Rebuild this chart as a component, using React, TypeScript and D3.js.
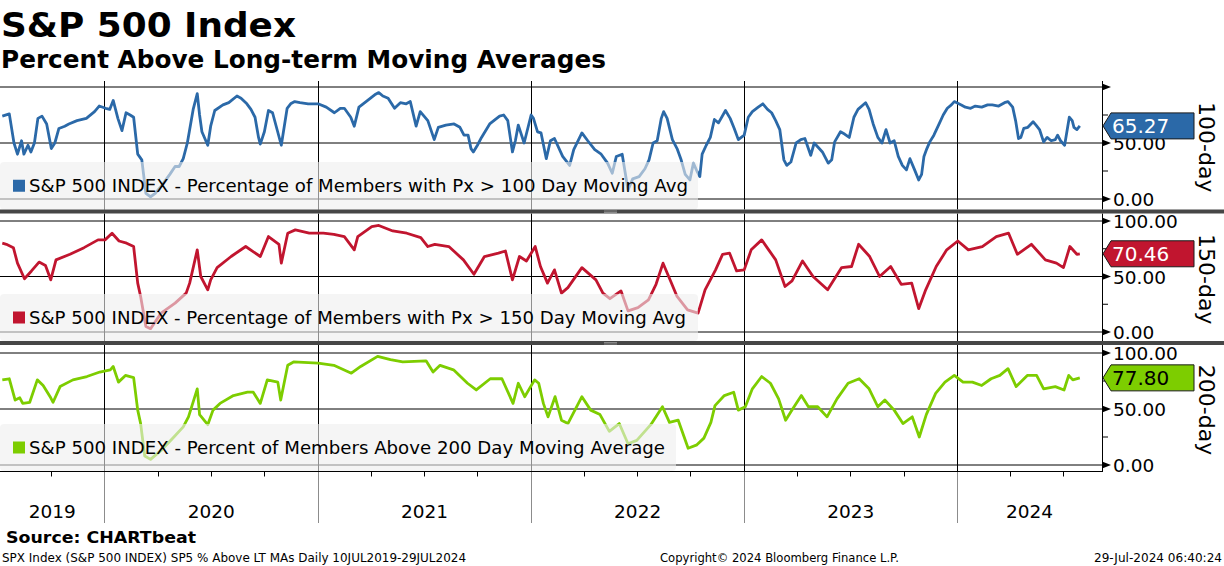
import React from "react";
import * as d3 from "d3";

type Pt = [string, number];

const series100: Pt[] = [
  ["2019-07-10",74],["2019-07-22",76],["2019-07-30",50],["2019-08-05",40],["2019-08-12",52],["2019-08-16",40],
  ["2019-08-23",48],["2019-08-28",42],["2019-09-03",50],["2019-09-09",72],["2019-09-16",74],["2019-09-24",67],
  ["2019-10-02",45],["2019-10-08",50],["2019-10-15",63],["2019-10-25",65],["2019-11-01",67],["2019-11-15",70],
  ["2019-12-01",72],["2019-12-15",78],["2019-12-23",83],["2020-01-03",81],["2020-01-10",80],["2020-01-16",88],
  ["2020-01-24",72],["2020-01-31",61],["2020-02-07",77],["2020-02-14",75],["2020-02-20",73],["2020-02-27",40],
  ["2020-03-05",35],["2020-03-12",5],["2020-03-20",2],["2020-03-28",5],["2020-04-08",12],["2020-04-22",22],
  ["2020-05-01",29],["2020-05-08",29],["2020-05-15",36],["2020-05-22",50],["2020-06-01",80],["2020-06-08",94],
  ["2020-06-12",75],["2020-06-16",60],["2020-06-26",48],["2020-07-01",65],["2020-07-08",79],["2020-07-22",84],
  ["2020-08-01",86],["2020-08-15",92],["2020-08-22",90],["2020-09-01",85],["2020-09-08",80],["2020-09-15",73],
  ["2020-09-21",55],["2020-09-24",49],["2020-10-01",60],["2020-10-08",79],["2020-10-15",77],["2020-10-30",48],
  ["2020-11-09",81],["2020-11-15",85],["2020-11-22",87],["2020-12-01",86],["2020-12-15",85],["2021-01-01",85],
  ["2021-01-15",82],["2021-01-29",77],["2021-02-08",81],["2021-02-15",81],["2021-02-26",73],["2021-03-04",65],
  ["2021-03-12",82],["2021-03-22",86],["2021-04-08",93],["2021-04-15",95],["2021-04-22",92],["2021-05-01",90],
  ["2021-05-12",81],["2021-05-22",86],["2021-06-01",85],["2021-06-08",87],["2021-06-18",65],["2021-06-25",78],
  ["2021-07-08",70],["2021-07-19",53],["2021-07-26",64],["2021-08-08",66],["2021-08-22",67],["2021-09-01",64],
  ["2021-09-08",57],["2021-09-15",57],["2021-09-20",45],["2021-09-24",42],["2021-10-01",48],["2021-10-08",55],
  ["2021-10-22",67],["2021-11-08",74],["2021-11-15",75],["2021-11-22",70],["2021-11-30",42],["2021-12-05",52],
  ["2021-12-10",66],["2021-12-20",50],["2022-01-01",75],["2022-01-05",72],["2022-01-12",60],["2022-01-18",59],
  ["2022-01-27",36],["2022-02-03",52],["2022-02-10",54],["2022-02-24",38],["2022-03-08",30],["2022-03-15",44],
  ["2022-03-29",59],["2022-04-08",52],["2022-04-20",44],["2022-05-01",40],["2022-05-12",32],["2022-05-20",23],
  ["2022-05-27",38],["2022-06-06",40],["2022-06-16",8],["2022-06-24",18],["2022-07-05",20],["2022-07-15",27],
  ["2022-07-22",35],["2022-07-29",50],["2022-08-05",52],["2022-08-12",72],["2022-08-16",78],["2022-08-22",72],
  ["2022-08-31",53],["2022-09-08",45],["2022-09-15",35],["2022-09-22",22],["2022-09-30",17],["2022-10-06",32],
  ["2022-10-12",25],["2022-10-17",20],["2022-10-21",40],["2022-10-28",48],["2022-11-04",55],["2022-11-11",71],
  ["2022-11-18",68],["2022-11-30",79],["2022-12-08",72],["2022-12-15",63],["2022-12-22",53],["2023-01-01",57],
  ["2023-01-08",73],["2023-01-15",78],["2023-01-25",82],["2023-02-02",85],["2023-02-10",80],["2023-02-17",77],
  ["2023-02-24",70],["2023-03-03",62],["2023-03-10",35],["2023-03-15",30],["2023-03-22",33],["2023-03-31",50],
  ["2023-04-08",53],["2023-04-15",54],["2023-04-25",39],["2023-05-01",50],["2023-05-08",46],["2023-05-15",42],
  ["2023-05-25",32],["2023-05-31",35],["2023-06-05",51],["2023-06-15",60],["2023-06-22",58],["2023-06-30",55],
  ["2023-07-08",73],["2023-07-15",80],["2023-07-28",86],["2023-08-03",80],["2023-08-10",67],["2023-08-18",55],
  ["2023-08-25",50],["2023-09-01",62],["2023-09-08",50],["2023-09-15",52],["2023-09-22",38],["2023-09-29",30],
  ["2023-10-06",26],["2023-10-12",36],["2023-10-20",26],["2023-10-27",17],["2023-11-01",22],["2023-11-05",38],
  ["2023-11-10",45],["2023-11-15",51],["2023-11-22",57],["2023-12-01",67],["2023-12-08",75],["2023-12-15",81],
  ["2023-12-22",84],["2023-12-27",87],["2024-01-08",84],["2024-01-15",82],["2024-01-24",81],["2024-02-01",83],
  ["2024-02-12",82],["2024-02-22",84],["2024-03-01",84],["2024-03-12",83],["2024-03-22",86],["2024-03-28",87],
  ["2024-04-05",82],["2024-04-10",70],["2024-04-15",54],["2024-04-19",55],["2024-04-24",63],["2024-05-01",64],
  ["2024-05-10",69],["2024-05-15",66],["2024-05-21",62],["2024-05-28",51],["2024-06-03",55],["2024-06-10",52],
  ["2024-06-17",53],["2024-06-21",57],["2024-06-26",52],["2024-07-03",48],["2024-07-11",73],["2024-07-16",70],
  ["2024-07-19",64],["2024-07-24",62],["2024-07-29",65.27]
];

const series150: Pt[] = [
  ["2019-07-10",80],["2019-07-17",79],["2019-07-29",76],["2019-08-05",62],["2019-08-17",48],["2019-08-29",55],
  ["2019-09-11",63],["2019-09-22",60],["2019-10-01",47],["2019-10-10",65],["2019-11-03",70],["2019-11-27",76],
  ["2019-12-21",83],["2020-01-02",83],["2020-01-14",89],["2020-01-26",82],["2020-02-08",80],["2020-02-20",77],
  ["2020-02-27",44],["2020-03-03",32],["2020-03-12",5],["2020-03-20",3],["2020-04-07",17],["2020-05-01",26],
  ["2020-05-20",35],["2020-05-26",44],["2020-06-08",74],["2020-06-14",50],["2020-06-26",38],["2020-07-01",47],
  ["2020-07-12",58],["2020-08-05",68],["2020-08-30",77],["2020-09-24",68],["2020-10-08",86],["2020-10-26",79],
  ["2020-10-30",62],["2020-11-10",89],["2020-11-23",92],["2020-12-17",89],["2021-01-10",89],["2021-01-28",88],
  ["2021-02-15",86],["2021-03-04",74],["2021-03-10",86],["2021-04-03",95],["2021-04-15",96],["2021-05-09",91],
  ["2021-06-02",89],["2021-06-26",85],["2021-07-08",77],["2021-07-20",79],["2021-08-13",77],["2021-09-07",65],
  ["2021-09-25",52],["2021-10-13",68],["2021-11-06",71],["2021-11-18",73],["2021-11-30",47],["2021-12-12",68],
  ["2021-12-24",64],["2022-01-08",77],["2022-01-17",59],["2022-01-29",44],["2022-02-10",56],["2022-02-22",35],
  ["2022-03-05",40],["2022-03-29",58],["2022-04-22",47],["2022-05-04",35],["2022-05-16",30],["2022-06-04",37],
  ["2022-06-16",19],["2022-07-03",22],["2022-07-21",29],["2022-08-03",43],["2022-08-15",62],["2022-08-27",47],
  ["2022-09-08",32],["2022-09-26",20],["2022-10-14",17],["2022-10-26",38],["2022-11-13",56],["2022-11-25",70],
  ["2022-12-07",71],["2022-12-19",55],["2023-01-01",56],["2023-01-13",74],["2023-01-31",83],["2023-02-12",74],
  ["2023-02-24",65],["2023-03-12",41],["2023-03-24",46],["2023-04-11",64],["2023-04-29",50],["2023-05-24",38],
  ["2023-06-17",58],["2023-07-04",59],["2023-07-16",79],["2023-08-04",68],["2023-08-21",50],["2023-09-09",59],
  ["2023-09-27",43],["2023-10-15",44],["2023-10-27",21],["2023-11-08",38],["2023-11-26",59],["2023-12-14",74],
  ["2024-01-02",82],["2024-01-20",74],["2024-02-13",77],["2024-03-08",86],["2024-03-29",89],["2024-04-13",70],
  ["2024-05-07",79],["2024-05-31",65],["2024-06-19",62],["2024-07-01",58],["2024-07-12",77],["2024-07-24",70],
  ["2024-07-29",70.46]
];

const series200: Pt[] = [
  ["2019-07-10",76],["2019-07-22",77],["2019-08-01",58],["2019-08-09",60],["2019-08-14",55],["2019-08-26",56],
  ["2019-09-08",76],["2019-09-18",71],["2019-10-01",60],["2019-10-05",56],["2019-10-17",70],["2019-11-08",76],
  ["2019-12-02",79],["2019-12-24",83],["2020-01-11",85],["2020-01-16",88],["2020-01-25",74],["2020-02-06",80],
  ["2020-02-20",78],["2020-02-27",49],["2020-03-03",37],["2020-03-10",8],["2020-03-20",5],["2020-04-07",13],
  ["2020-04-29",25],["2020-05-15",34],["2020-05-24",43],["2020-06-08",68],["2020-06-12",45],["2020-06-26",36],
  ["2020-07-05",49],["2020-07-17",55],["2020-08-09",62],["2020-09-02",65],["2020-09-12",65],["2020-09-24",55],
  ["2020-10-06",76],["2020-10-24",74],["2020-10-29",58],["2020-11-10",89],["2020-11-20",92],["2021-01-01",91],
  ["2021-01-28",89],["2021-02-27",82],["2021-03-15",88],["2021-04-13",97],["2021-05-05",94],["2021-05-26",92],
  ["2021-07-05",93],["2021-07-17",83],["2021-07-29",89],["2021-08-21",85],["2021-09-14",73],["2021-09-29",67],
  ["2021-10-23",77],["2021-11-12",77],["2021-12-01",55],["2021-12-10",73],["2021-12-21",61],["2022-01-07",76],
  ["2022-01-14",73],["2022-01-22",55],["2022-01-30",43],["2022-02-11",61],["2022-02-22",40],["2022-03-05",37],
  ["2022-03-29",61],["2022-04-13",49],["2022-04-29",45],["2022-05-15",30],["2022-06-01",37],["2022-06-16",19],
  ["2022-07-01",22],["2022-07-25",36],["2022-08-14",52],["2022-08-26",38],["2022-09-10",40],["2022-09-27",15],
  ["2022-10-12",18],["2022-10-24",24],["2022-11-05",38],["2022-11-12",53],["2022-11-28",62],["2022-12-14",65],
  ["2022-12-22",49],["2023-01-03",52],["2023-01-15",68],["2023-01-31",79],["2023-02-15",73],["2023-03-01",59],
  ["2023-03-13",40],["2023-03-25",50],["2023-04-09",62],["2023-04-21",52],["2023-05-07",52],["2023-05-23",43],
  ["2023-06-09",59],["2023-06-28",73],["2023-07-17",77],["2023-08-03",68],["2023-08-18",52],["2023-08-30",58],
  ["2023-09-15",49],["2023-09-30",37],["2023-10-16",43],["2023-10-28",25],["2023-11-09",45],["2023-11-25",64],
  ["2023-12-11",74],["2023-12-27",80],["2024-01-11",74],["2024-01-27",74],["2024-02-12",71],["2024-02-28",77],
  ["2024-03-14",80],["2024-03-28",86],["2024-04-11",70],["2024-04-30",80],["2024-05-16",80],["2024-05-28",68],
  ["2024-06-17",70],["2024-07-02",67],["2024-07-10",80],["2024-07-17",76],["2024-07-29",77.8]
];

const yMajorTicks = [0, 50, 100];
const yMinorTicks = [25, 75];
const years = [2019, 2020, 2021, 2022, 2023, 2024];

const legend100 = "S&P 500 INDEX - Percentage of Members with Px > 100 Day Moving Avg";
const legend150 = "S&P 500 INDEX - Percentage of Members with Px > 150 Day Moving Avg";
const legend200 = "S&P 500 INDEX - Percent of Members Above 200 Day Moving Average";

const W = 1224;
const H = 566;
const AXIS_X = 1102;
const FONT = "'DejaVu Sans', Verdana, sans-serif";
const parse = d3.utcParse("%Y-%m-%d");

const x = d3
  .scaleUtc()
  .domain([parse("2019-07-10")!, parse("2024-07-29")!])
  .range([2.3, 1079.8]);

type Panel = {
  data: Pt[];
  color: string;
  tagText: string;
  top: number;
  bottom: number;
  y0: number;
  y100: number;
  legend: string;
  legendTop: number;
  legendW: number;
  legendTextW: number;
  side: string;
  labels: number[];
};

const panels: Panel[] = [
  { data: series100, color: "#2b69a8", tagText: "#ffffff", top: 81, bottom: 209.5, y0: 199, y100: 87,
    legend: legend100, legendTop: 162, legendW: 698, legendTextW: 659, side: "100-day", labels: [0, 50] },
  { data: series150, color: "#c1152f", tagText: "#ffffff", top: 213.5, bottom: 341, y0: 332, y100: 221,
    legend: legend150, legendTop: 294, legendW: 698, legendTextW: 657, side: "150-day", labels: [0, 50, 100] },
  { data: series200, color: "#7dcd00", tagText: "#000000", top: 345, bottom: 471, y0: 465, y100: 353,
    legend: legend200, legendTop: 424, legendW: 676, legendTextW: 636, side: "200-day", labels: [0, 50, 100] },
];

function PanelView({ p, idx }: { p: Panel; idx: number }) {
  const y = d3.scaleLinear().domain([0, 100]).range([p.y0, p.y100]);
  const line = d3
    .line<Pt>()
    .x((d) => x(parse(d[0])!))
    .y((d) => y(d[1]));
  const yearStarts = d3.utcYear.range(parse("2019-07-11")!, parse("2024-09-01")!);
  const last = p.data[p.data.length - 1];
  const vy = y(last[1]);
  const clipId = `clip${idx}`;
  const lh = p.bottom - p.legendTop;
  return (
    <g>
      <defs>
        <clipPath id={clipId}>
          <rect x={0} y={p.top} width={AXIS_X} height={p.bottom - p.top} />
        </clipPath>
      </defs>
      {yMajorTicks.map((t) => (
        <line key={"g" + t} x1={0} x2={AXIS_X} y1={y(t)} y2={y(t)} stroke="#000" strokeWidth={1} />
      ))}
      {yearStarts.map((d) => (
        <line key={"v" + d.getUTCFullYear()} x1={Math.round(x(d)) + 0.5} x2={Math.round(x(d)) + 0.5}
          y1={p.top} y2={p.bottom} stroke="#000" strokeWidth={1} />
      ))}
      <path d={line(p.data) || ""} fill="none" stroke={p.color} strokeWidth={2.8}
        strokeLinejoin="round" clipPath={`url(#${clipId})`} />
      <rect x={0} y={p.legendTop} width={p.legendW} height={lh} rx={4}
        fill="#eeeeee" fillOpacity={0.6} />
      <rect x={13} y={p.legendTop + lh / 2 - 6} width={12} height={12} fill={p.color} />
      <text x={29} y={p.legendTop + lh / 2 + 6.5} fontFamily={FONT} fontSize={18} fill="#000"
        textLength={p.legendTextW} lengthAdjust="spacingAndGlyphs">{p.legend}</text>
      <line x1={AXIS_X + 0.5} x2={AXIS_X + 0.5} y1={p.top} y2={p.bottom} stroke="#000" strokeWidth={1} />
      {yMajorTicks.map((t) => (
        <path key={"a" + t} d={`M${AXIS_X},${y(t) - 3.5}L${AXIS_X + 9},${y(t)}L${AXIS_X},${y(t) + 3.5}Z`} fill="#000" />
      ))}
      {yMinorTicks.map((t) => (
        <line key={"m" + t} x1={AXIS_X} x2={AXIS_X + 6} y1={y(t)} y2={y(t)} stroke="#000" strokeWidth={1} />
      ))}
      {p.labels.map((t) => (
        <text key={"l" + t} x={1113} y={y(t) + 7} fontFamily={FONT} fontSize={18.5} fill="#000">
          {t.toFixed(2)}
        </text>
      ))}
      <path
        d={`M${AXIS_X + 1},${vy}L${AXIS_X + 9},${vy - 13}L1194,${vy - 13}L1194,${vy + 13}L${AXIS_X + 9},${vy + 13}Z`}
        fill={p.color} stroke="#1a1a1a" strokeWidth={1} />
      <text x={1112} y={vy + 7.5} fontFamily={FONT} fontSize={20} fill={p.tagText}>
        {last[1].toFixed(2)}
      </text>
      <text transform={`translate(1199,${(p.top + p.bottom) / 2 + 2}) rotate(90)`} textAnchor="middle"
        fontFamily={FONT} fontSize={22} fill="#000">{p.side}</text>
    </g>
  );
}

export default function App() {
  const yearStarts = d3.utcYear.range(parse("2019-07-11")!, parse("2024-09-01")!);
  const quarters = d3.utcMonth
    .every(3)!
    .range(parse("2019-07-11")!, parse("2024-09-01")!)
    .filter((d) => d.getUTCMonth() !== 0);
  const yearSpans = years.map((yr) => {
    const a = Math.max(0, x(Date.UTC(yr, 0, 1) as any));
    const b = Math.min(AXIS_X, x(Date.UTC(yr + 1, 0, 1) as any));
    return { yr, c: (a + b) / 2 };
  });
  return (
    <svg width={W} height={H} viewBox={`0 0 ${W} ${H}`}
      style={{ position: "absolute", left: 0, top: 0, background: "#fff" }}>
      <rect x={0} y={0} width={W} height={H} fill="#fff" />
      <text x={1} y={37} fontFamily={FONT} fontWeight="bold" fontSize={34} textLength={295}
        lengthAdjust="spacingAndGlyphs">S&amp;P 500 Index</text>
      <text x={1} y={68} fontFamily={FONT} fontWeight="bold" fontSize={25} textLength={605}
        lengthAdjust="spacingAndGlyphs">Percent Above Long-term Moving Averages</text>

      {panels.map((p, i) => (
        <PanelView key={i} p={p} idx={i} />
      ))}

      {/* separators */}
      {[209.5, 341].map((yy) => (
        <g key={"s" + yy}>
          <rect x={0} y={yy} width={W} height={4} fill="#464646" />
          <line x1={604} x2={617} y1={yy + 1.5} y2={yy + 1.5} stroke="#9a9a9a" strokeWidth={0.8} />
          <line x1={604} x2={617} y1={yy + 3} y2={yy + 3} stroke="#9a9a9a" strokeWidth={0.8} />
        </g>
      ))}

      {/* bottom axis */}
      <line x1={0} x2={AXIS_X + 1} y1={471.5} y2={471.5} stroke="#000" strokeWidth={1} />
      {quarters.map((d) => (
        <line key={"q" + d.toISOString()} x1={Math.round(x(d)) + 0.5} x2={Math.round(x(d)) + 0.5}
          y1={471.5} y2={476.5} stroke="#000" strokeWidth={1} />
      ))}
      {yearStarts.map((d) => (
        <line key={"yl" + d.getUTCFullYear()} x1={Math.round(x(d)) + 0.5} x2={Math.round(x(d)) + 0.5}
          y1={472} y2={523} stroke="#8c8c8c" strokeWidth={1} />
      ))}
      {yearSpans.map((s) => (
        <text key={"yt" + s.yr} x={s.c} y={518} textAnchor="middle" fontFamily={FONT} fontSize={18.5}
          fill="#000">{s.yr}</text>
      ))}

      <text x={6} y={543} fontFamily={FONT} fontWeight="bold" fontSize={16} textLength={190}
        lengthAdjust="spacingAndGlyphs">Source: CHARTbeat</text>
      <text x={2} y={562} fontFamily={FONT} fontSize={12} textLength={464}
        lengthAdjust="spacingAndGlyphs">SPX Index (S&amp;P 500 INDEX) SP5 % Above LT MAs  Daily 10JUL2019-29JUL2024</text>
      <text x={660} y={562} fontFamily={FONT} fontSize={12} textLength={239}
        lengthAdjust="spacingAndGlyphs">Copyright© 2024 Bloomberg Finance L.P.</text>
      <text x={1094} y={562} fontFamily={FONT} fontSize={12} textLength={128}
        lengthAdjust="spacingAndGlyphs">29-Jul-2024 06:40:24</text>
    </svg>
  );
}
